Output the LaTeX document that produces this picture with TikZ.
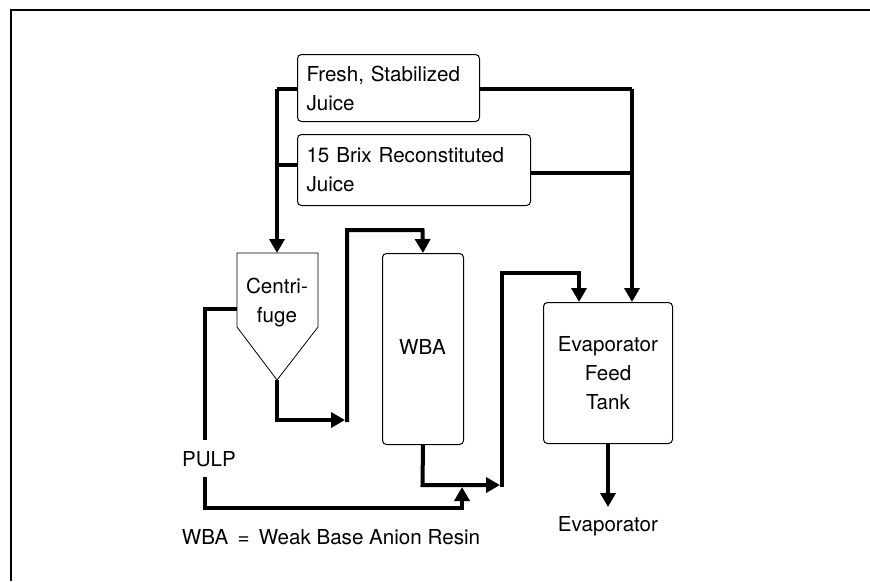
\documentclass[tikz,border=0pt]{standalone}
\usepackage{fontspec}
\setmainfont{TeX Gyre Heros}
\usetikzlibrary{arrows.meta}
\begin{document}
\begin{tikzpicture}[x=1pt,y=-1pt,
  font=\fontsize{20.6}{29}\selectfont,
  box/.style={draw, line width=1pt, rounded corners=4pt, inner sep=0pt},
  flow/.style={line width=4pt, line join=miter, -{Triangle[length=14pt,width=15pt]}},
  pipe/.style={line width=4pt, line join=miter},
  lbl/.style={inner sep=0pt}]
\useasboundingbox (0,0) rectangle (870,581);
% frame
\draw[line width=2pt] (11,581) -- (11,10) -- (870,10);
% boxes
\node[box, minimum width=182pt, minimum height=67pt, anchor=north west,
      text width=164pt, align=left] (fresh) at (297,54) {Fresh, Stabilized\\Juice};
\node[box, minimum width=233pt, minimum height=71pt, anchor=north west,
      text width=215pt, align=left] (brix) at (297,134) {15 Brix Reconstituted\\Juice};
\node[box, minimum width=81pt, minimum height=191pt, anchor=north west] (wba) at (382,253) {};
\node[lbl] (wbat) at (422.5,347) {WBA};
\node[box, minimum width=129pt, minimum height=141pt, anchor=north west,
      align=center] (tank) at (543,302) {Evaporator\\Feed\\Tank};
% centrifuge
\coordinate (cfTop) at (277,253);
\coordinate (cfLeft) at (237,309);
\coordinate (cfBot) at (277,380);
\draw[line width=0.8pt] (237,253) -- (318,253) -- (318,327) -- (cfBot) -- (237,327) -- cycle;
\node[lbl, align=center] (cf) at (277,303) {Centri-\\fuge};
% labels
\node[lbl] (pulp) at (209,459) {PULP};
\node[lbl] (evap) at (608,526) {Evaporator};
\node[lbl] (legend) at (331,537) {WBA\, =\, Weak Base Anion Resin};
% coordinates for junctions
\coordinate (jL) at (277,89);
\coordinate (jLb) at (277,165);
\coordinate (jR) at (632,89);
\coordinate (jRb) at (632,173);
\coordinate (cfOut) at (277,420);
\coordinate (up1) at (347,422);
\coordinate (top1) at (347,230);
\coordinate (wbaIn) at (422.5,230);
\coordinate (wbaOut) at (422.5,485);
\coordinate (up2) at (502,487);
\coordinate (top2) at (502,273);
\coordinate (tankIn) at (579,273);
\coordinate (pulpA) at (205,309);
\coordinate (pulpB) at (205,440);
\coordinate (pulpC) at (205,477);
\coordinate (pulpD) at (205,508);
\coordinate (pulpE) at (462,508);
% connectors
\draw[pipe] (fresh.west |- jL) -- (jL);
\draw[flow] (jL) -- (cfTop);
\draw[pipe] (brix.west |- jLb) -- (jLb);
\draw[pipe] (fresh.east |- jR) -- (jR);
\draw[flow] (jR) -- (jR |- tank.north);
\draw[pipe] (brix.east |- jRb) -- (jRb);
\draw[flow] (cfBot) -- (cfOut) -- (345,420);
\draw[flow] (up1) -- (top1) -- (wbaIn) -- (wba.north);
\draw[flow] (wba.south) -- (wbaOut) -- (500,485);
\draw[flow] (up2) -- (top2) -- (tankIn) -- (tankIn |- tank.north);
\draw[pipe] (cfLeft) -- (pulpA) -- (pulpB);
\draw[flow] (pulpC) -- (pulpD) -- (pulpE) -- (462,487);
\draw[flow] (tank.south) -- (608,507);
\end{tikzpicture}
\end{document}
